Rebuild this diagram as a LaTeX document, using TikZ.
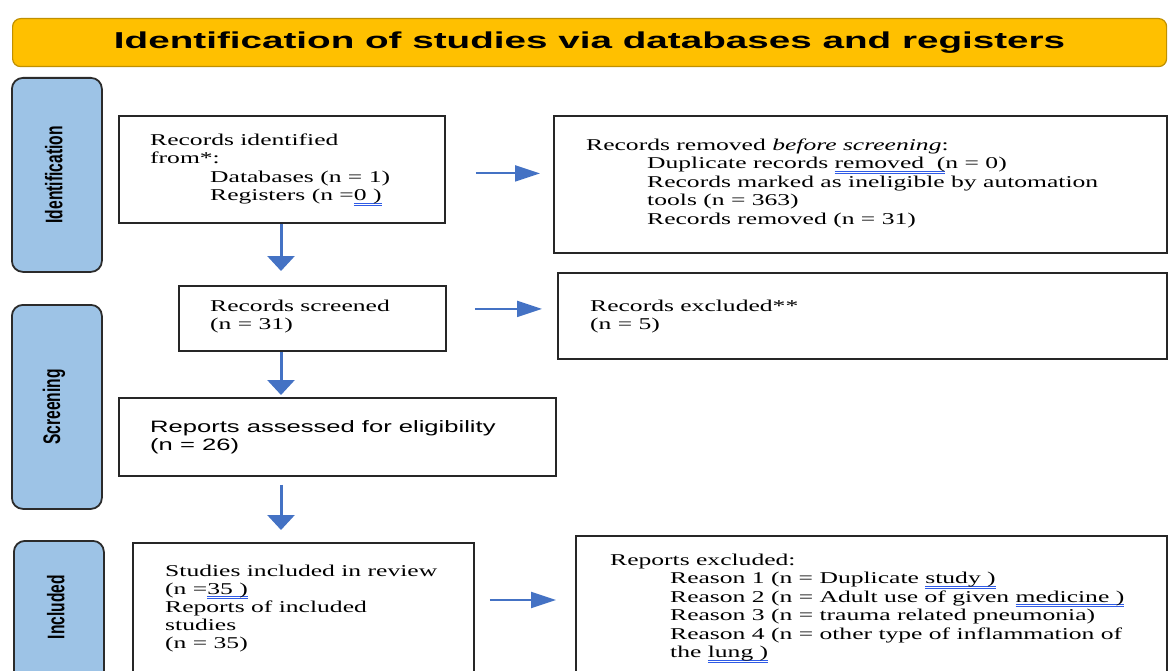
\documentclass[tikz,border=0pt]{standalone}
\usepackage{fontspec}
\setmainfont{Liberation Serif}[FakeStretch=1.55]
\newfontfamily\repsans{Liberation Sans}[FakeStretch=1.55]
\newfontfamily\titlesans{Liberation Sans}[FakeStretch=1.68]
\newfontfamily\sidesans{Liberation Sans}[FakeStretch=0.65]
\usetikzlibrary{arrows.meta,positioning}
\definecolor{bannerfill}{HTML}{FFC000}
\definecolor{bannerline}{HTML}{C09000}
\definecolor{phasefill}{HTML}{9DC3E6}
\definecolor{phaseline}{HTML}{2B2B2B}
\definecolor{flowblue}{HTML}{4472C4}
\definecolor{spell}{HTML}{2F5BE6}
\newcommand{\spellmark}[1]{\setbox0=\hbox{#1}%
  \rlap{{\color{spell}\rule[-2.8pt]{\wd0}{0.9pt}}}%
  \rlap{{\color{spell}\rule[-5pt]{\wd0}{0.9pt}}}\box0}
\tikzset{
  banner/.style={draw=bannerline,fill=bannerfill,line width=1.2pt,rounded corners=8pt,
                 anchor=north west,inner sep=0pt,
                 font=\titlesans\bfseries\fontsize{23}{27}\selectfont},
  phase/.style={draw=phaseline,fill=phasefill,line width=1.8pt,rounded corners=11pt,
                minimum width=90pt,anchor=north west,inner sep=0pt},
  phaselabel/.style={rotate=90,inner sep=0pt,
                     font=\sidesans\bfseries\fontsize{24}{28}\selectfont},
  record/.style={draw=black!85,line width=1.8pt,anchor=north west,inner sep=0pt},
  recordtext/.style={anchor=north west,inner sep=0pt,align=left,text=black,
                     font=\fontsize{16.5}{18.5}\selectfont},
  vflow/.style={-{Triangle[length=15pt,width=27pt]},line width=3pt,color=flowblue},
  hflow/.style={-{Triangle[length=25pt,width=16pt]},line width=2pt,color=flowblue},
}
\begin{document}
\begin{tikzpicture}[x=1pt,y=-1pt]
  \clip (0,0) rectangle (1169,671);
  \fill[white] (0,0) rectangle (1169,671);
  % banner
  \node[banner,minimum width=1154pt,minimum height=48pt] (banner) at (12,18)
    {Identification of studies via databases and registers};
  % phases
  \node[phase,minimum height=194pt] (phaseid) at (11,77) {};
  \node[phase,minimum height=204pt] (phasescr) at (11,304) {};
  \node[phase,minimum height=160pt] (phaseinc) at (13,540) {};
  \node[phaselabel] (phaseidlab) at ([xshift=-3pt]phaseid.center) {Identification};
  \node[phaselabel] (phasescrlab) at ([xshift=-3pt]phasescr.center) {Screening};
  \node[phaselabel] (phaseinclab) at ([xshift=-3pt,yshift=-67pt]phaseinc.north) {Included};
  % records
  \node[record,minimum width=326pt,minimum height=107pt] (ident) at (118,115) {};
  \node[record,minimum width=613pt,minimum height=137pt] (removed) at (553,115) {};
  \node[record,minimum width=267pt,minimum height=65pt] (screened) at (178,285) {};
  \node[record,minimum width=609pt,minimum height=86pt] (excluded) at (557,272) {};
  \node[record,minimum width=437pt,minimum height=78pt] (assessed) at (118,397) {};
  \node[record,minimum width=341pt,minimum height=160pt] (studies) at (132,542) {};
  \node[record,minimum width=591pt,minimum height=168pt] (repexcl) at (575,535) {};
  % texts
  \node[recordtext] (identtext) at (150,133.5) {Records identified\\from*:\\
    \hspace*{60pt}Databases (n = 1)\\
    \hspace*{60pt}Registers (n =\spellmark{0 )}};
  \node[recordtext] (removedtext) at (586,138.5) {Records removed \textit{before screening}:\\
    \hspace*{61pt}Duplicate records \spellmark{removed\ \ (}n = 0)\\
    \hspace*{61pt}Records marked as ineligible by automation\\
    \hspace*{61pt}tools (n = 363)\\
    \hspace*{61pt}Records removed (n = 31)};
  \node[recordtext] (screenedtext) at (210,299.5) {Records screened\\(n = 31)};
  \node[recordtext] (excludedtext) at (590,299.5) {Records excluded**\\(n = 5)};
  \node[recordtext,font=\repsans\fontsize{16.5}{18.5}\selectfont] (assessedtext) at (150,420)
    {Reports assessed for eligibility\\(n = 26)};
  \node[recordtext,font=\fontsize{16.5}{18}\selectfont] (studiestext) at (165,564.5)
    {Studies included in review\\(n =\spellmark{35 )}\\Reports of included\\studies\\(n = 35)};
  \node[recordtext] (repexcltext) at (610,553.5) {Reports excluded:\\
    \hspace*{60pt}Reason 1 (n = Duplicate \spellmark{study )}\\
    \hspace*{60pt}Reason 2 (n = Adult use of given \spellmark{medicine )}\\
    \hspace*{60pt}Reason 3 (n = trauma related pneumonia)\\
    \hspace*{60pt}Reason 4 (n = other type of inflammation of\\
    \hspace*{60pt}the \spellmark{lung )}};
  % connectors
  \coordinate (col) at (281,0);
  \draw[vflow,shorten >=14pt] (ident.south -| col) -- (screened.north -| col);
  \draw[vflow,shorten >=2pt] (screened.south -| col) -- (assessed.north -| col);
  \draw[vflow,shorten <=8pt,shorten >=12pt] (assessed.south -| col) -- (studies.north -| col);
  \draw[hflow,shorten <=30pt,shorten >=13pt]
    ([yshift=-4pt]ident.east) -- ([yshift=-4pt]ident.east -| removed.west);
  \draw[hflow,shorten <=28pt,shorten >=15pt]
    ([yshift=9.5pt]screened.east) -- ([yshift=9.5pt]screened.east -| excluded.west);
  \draw[hflow,shorten <=15pt,shorten >=19pt]
    ([yshift=-58pt]studies.north east) -- ([yshift=-58pt]studies.north east -| repexcl.west);
\end{tikzpicture}
\end{document}
